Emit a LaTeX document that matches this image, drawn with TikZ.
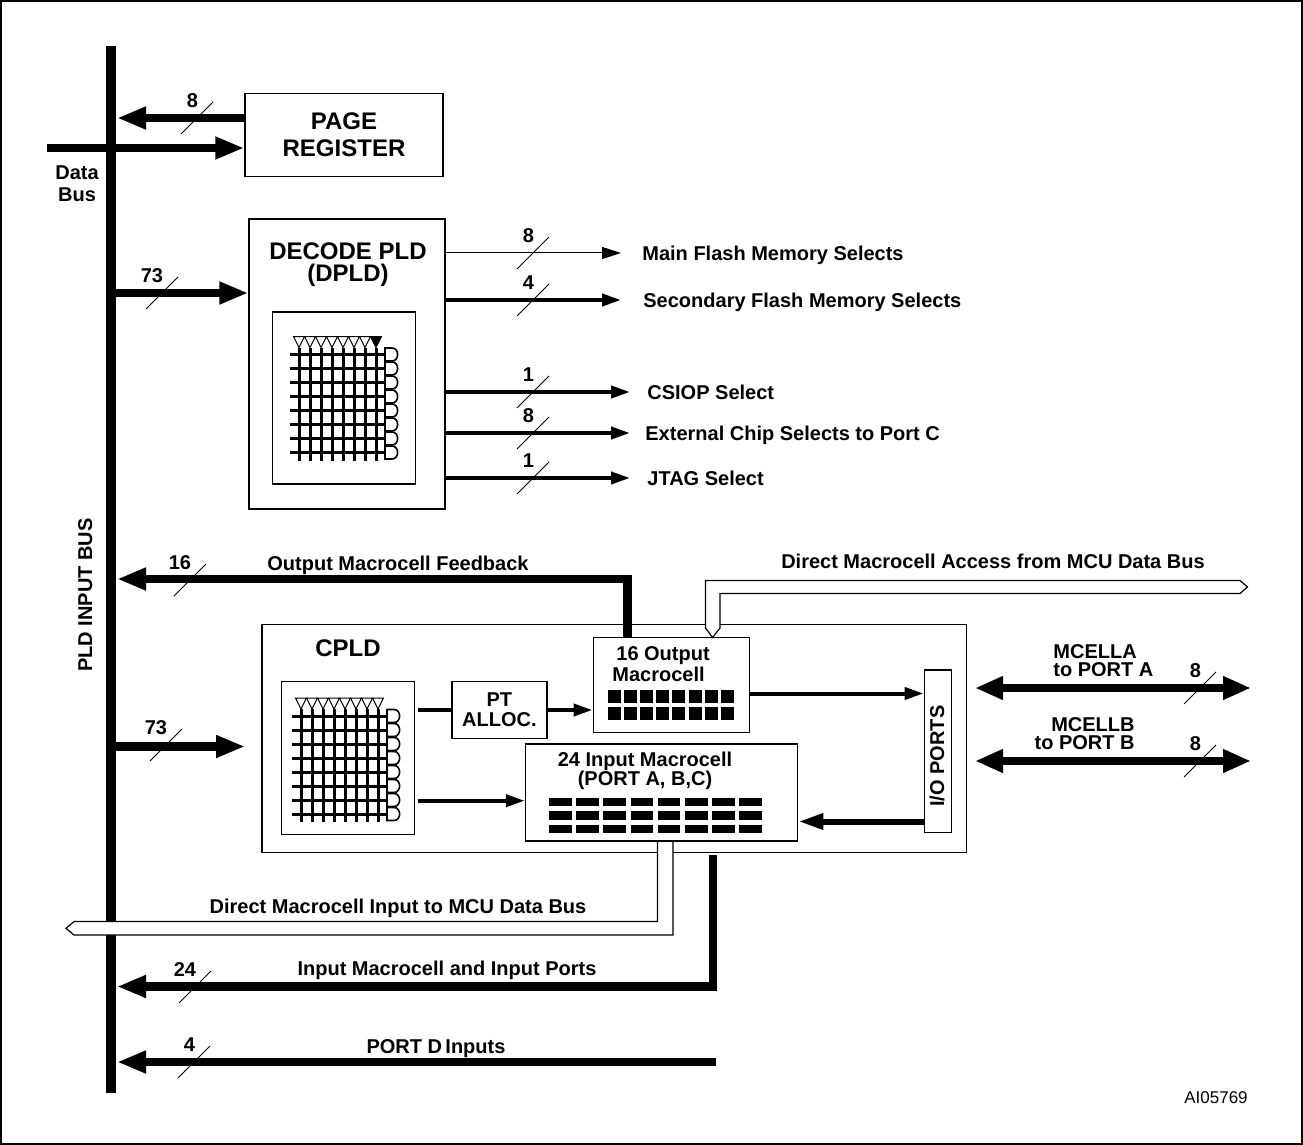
\documentclass[tikz,border=0pt]{standalone}
\usepackage{fontspec}
\setmainfont{Liberation Sans}
\usetikzlibrary{arrows.meta,positioning}

\tikzset{
  blk/.style={draw, line width=0.75pt, inner sep=0pt, fill=white},
  txt/.style={font=\bfseries\fontsize{10}{11}\selectfont, inner sep=0pt},
  lbl/.style={txt, text height=7.2pt, text depth=0pt},
  bigtxt/.style={font=\bfseries\fontsize{12}{13.3}\selectfont, inner sep=0pt, align=center},
  fatbus/.style={line width=4.25pt, -{Triangle[length=14.5pt,width=10.5pt]}},
  dblbus/.style={line width=4pt, {Triangle[length=14pt,width=11pt]}-{Triangle[length=14pt,width=11pt]}},
  sig/.style={line width=2pt, -{Triangle[length=9.5pt,width=6pt]}},
  thinsig/.style={line width=0.5pt, -{Triangle[length=9.5pt,width=6pt]}},
  slash/.style={line width=0.5pt},
  mesh/.style={line width=1.5pt},
  hollowbus/.style={line width=0.6pt},
}

% slash across a bus with its width
\newcommand{\buscount}[4]{%
  \draw[slash] (#1-16,#2+16) -- (#1+16,#2-16);
  \node[txt, anchor=east] (#4) at (#1+1.5,#2-17) {#3};}

% AND/OR array: centre x, centre y, fill of last input buffer
\newcommand{\plarray}[3]{%
  \begin{scope}[shift={(#1,#2)}]
    \foreach \c in {0,...,7}
      \draw[mesh] (-45+11*\c,-51) -- (-45+11*\c,62);
    \foreach \r in {0,...,7}{
      \draw[mesh] (-54,-44+14*\r) -- (41,-44+14*\r);
      \draw[line width=0.8pt, fill=white] (41,-50.5+14*\r) -- (48,-50.5+14*\r)
        .. controls (55.5,-50.5+14*\r) and (55.5,-37.5+14*\r) .. (48,-37.5+14*\r)
        -- (41,-37.5+14*\r) -- cycle;
    }
    \foreach \c in {0,...,6}
      \draw[line width=0.5pt, fill=white] (-50.5+11*\c,-62) -- (-39.5+11*\c,-62) -- (-45+11*\c,-51) -- cycle;
    \draw[line width=0.5pt, fill=#3] (26.5,-62) -- (37.5,-62) -- (32,-51) -- cycle;
  \end{scope}}

\begin{document}
\begin{tikzpicture}[x=0.5pt, y=-0.5pt]
\useasboundingbox (0,0) rectangle (1303,1145);
\draw[line width=1pt] (1,1) rectangle (1302,1144);

% PLD input bus
\coordinate (bustop) at (111,46);
\coordinate (busbot) at (111,1093);
\draw[line width=5pt] (bustop) -- (busbot);
\node[lbl, rotate=90] (busname) at (85,595) {PLD INPUT BUS};

% page register
\node[blk, bigtxt, minimum width=99pt, minimum height=41.7pt] (pagereg) at (344,135) {PAGE\\REGISTER};
\coordinate (prtip) at (117,118);
\draw[fatbus] (pagereg.west |- prtip) -- (prtip);
\buscount{197}{118}{8}{nprg}
\coordinate (dbus) at (47,148);
\draw[fatbus] (dbus) -- (dbus -| pagereg.west);
\node[txt, align=center] (dbname) at (77,184) {Data\\Bus};

% decode PLD
\node[blk, minimum width=97.85pt, minimum height=145pt] (dpld) at (347,364) {};
\node[bigtxt, font=\bfseries\fontsize{12}{11}\selectfont] (dpldname) at (348,265) {DECODE PLD\\(DPLD)};
\node[blk, minimum width=71.5pt, minimum height=86.15pt] (dpldarr) at (344.2,397.9) {};
\plarray{344}{398.5}{black}
\coordinate (dpin) at (116,293);
\draw[fatbus] (dpin) -- (dpin -| dpld.west);
\buscount{162}{293}{73}{ndp}

\node[lbl, anchor=west] (mainsel) at (642,253) {Main Flash Memory Selects};
\node[lbl, anchor=west] (secsel) at (643,300) {Secondary Flash Memory Selects};
\node[lbl, anchor=west] (csiop) at (647,392) {CSIOP Select};
\node[lbl, anchor=west] (extcs) at (645,433) {External Chip Selects to Port C};
\node[lbl, anchor=west] (jtag) at (647,478) {JTAG Select};
\draw[thinsig] (dpld.east |- mainsel) -- ([xshift=-10.5pt]mainsel.west);
\draw[sig] (dpld.east |- secsel) -- ([xshift=-11pt]secsel.west);
\draw[sig] (dpld.east |- csiop) -- ([xshift=-8.5pt]csiop.west);
\draw[sig] (dpld.east |- extcs) -- ([xshift=-7.5pt]extcs.west);
\draw[sig] (dpld.east |- jtag) -- ([xshift=-8.5pt]jtag.west);
\buscount{533}{253}{8}{nmain}
\buscount{533}{300}{4}{nsec}
\buscount{533}{392}{1}{ncsiop}
\buscount{533}{433}{8}{next}
\buscount{533}{478}{1}{njtag}

% CPLD
\node[blk, minimum width=352.45pt, minimum height=114pt] (cpld) at (614.25,738.5) {};
\node[bigtxt] (cpldname) at (348,648) {CPLD};
\node[blk, minimum width=66.6pt, minimum height=76.3pt] (cplarr) at (348,758) {};
\plarray{346}{760}{white}
\node[blk, txt, align=center, font=\bfseries\fontsize{10}{10}\selectfont, minimum width=47.4pt, minimum height=28.3pt] (ptalloc) at (499.4,710) {PT\\ALLOC.};
\node[blk, minimum width=78pt, minimum height=47.5pt] (outmc) at (671.25,685) {};
\node[txt, align=left, anchor=west, font=\bfseries\fontsize{10}{8.5}\selectfont] (outname) at (612,664) {\kern2pt 16 Output\\Macrocell};
\foreach \c in {0,...,7}
  \foreach \r in {0,1}
    \fill (608+16.1*\c,690+17*\r) rectangle ++(13,13);
\node[blk, minimum width=136pt, minimum height=48.5pt] (inmc) at (661.5,792.5) {};
\node[txt, align=center, font=\bfseries\fontsize{10}{9.5}\selectfont] (inname) at (645,771) {24 Input Macrocell\\(PORT A, B,C)};
\foreach \c in {0,...,7}
  \foreach \r in {0,1,2}
    \fill (549+27.2*\c,797.5+13.5*\r) rectangle ++(22.5,8.5);
\node[blk, minimum width=13.7pt, minimum height=81.35pt] (ioports) at (938,751.3) {};
\node[lbl, rotate=90] (ioname) at (937,756) {I/O PORTS};

\draw[line width=2pt] ([xshift=1.5pt]cplarr.east |- ptalloc) -- (ptalloc.west);
\draw[sig] (ptalloc.east) -- (ptalloc.east -| outmc.west);
\draw[sig] ([xshift=1.5pt,yshift=-21.35pt]cplarr.east) -- ([yshift=-21.35pt]cplarr.east -| inmc.west);
\draw[sig] ([yshift=-4.25pt]outmc.east) -- ([yshift=-4.25pt]outmc.east -| ioports.west);
\draw[line width=3pt, -{Triangle[length=12.5pt,width=7.5pt]}] ([yshift=-35.1pt]ioports.west) -- ([yshift=-35.1pt]ioports.west -| inmc.east);

\coordinate (cpin) at (116,746.5);
\draw[fatbus] (cpin) -- ([xshift=-8pt]cpin -| cpld.west);
\buscount{166}{745}{73}{ncp}

% feedback and direct access
\node[lbl] (fbname) at (398,563) {Output Macrocell Feedback};
\coordinate (fbtip) at (117,579);
\draw[fatbus] ([xshift=17.5pt]outmc.north west) |- (fbtip);
\buscount{190}{580}{16}{nfb}
\node[lbl] (accname) at (993,561) {Direct Macrocell Access from MCU Data Bus};
\draw[hollowbus, fill=white] (712.5,637.5) -- (705.5,628) -- (705.5,580.5) -- (1240,580.5) -- (1247.5,587)
  -- (1240,593.5) -- (720,593.5) -- (720,628) -- cycle;

% ports A and B
\coordinate (pa1) at (975,688);
\coordinate (pa2) at (1251,688);
\draw[dblbus] (pa1) -- (pa2);
\node[txt, align=left, anchor=west, font=\bfseries\fontsize{10}{9}\selectfont] (mcella) at (1053,661) {MCELLA\\to PORT A};
\buscount{1200}{688}{8}{npa}
\coordinate (pb1) at (975,761);
\coordinate (pb2) at (1251,761);
\draw[dblbus] (pb1) -- (pb2);
\node[txt, align=right, anchor=east, font=\bfseries\fontsize{10}{9}\selectfont] (mcellb) at (1135,734) {MCELLB\\to PORT B};
\buscount{1200}{761}{8}{npb}

% direct input to data bus
\fill[white] (657.5,842) -- (657.5,921.5) -- (74,921.5) -- (66,928.3) -- (74,935) -- (673,935) -- (673,842) -- cycle;
\draw[hollowbus] (657.5,842) -- (657.5,921.5) -- (74,921.5) -- (66,928.3) -- (74,935) -- (673,935) -- (673,842);
\node[lbl] (dirname) at (398,906.5) {Direct Macrocell Input to MCU Data Bus};

% input macrocell and port D
\coordinate (ipsrc) at (713,855);
\coordinate (iptip) at (117,986.5);
\draw[fatbus] (ipsrc) |- (iptip);
\node[lbl] (ipname) at (447,968) {Input Macrocell and Input Ports};
\buscount{195}{987}{24}{nip}
\coordinate (pdsrc) at (716,1062);
\coordinate (pdtip) at (117,1062);
\draw[fatbus] (pdsrc) -- (pdtip);
\node[lbl] (pdname) at (436,1046) {PORT D\,Inputs};
\buscount{194}{1062}{4}{npd}

\node[font=\fontsize{8.5}{10}\selectfont, inner sep=0pt] (figid) at (1216,1098) {AI05769};
\end{tikzpicture}
\end{document}
